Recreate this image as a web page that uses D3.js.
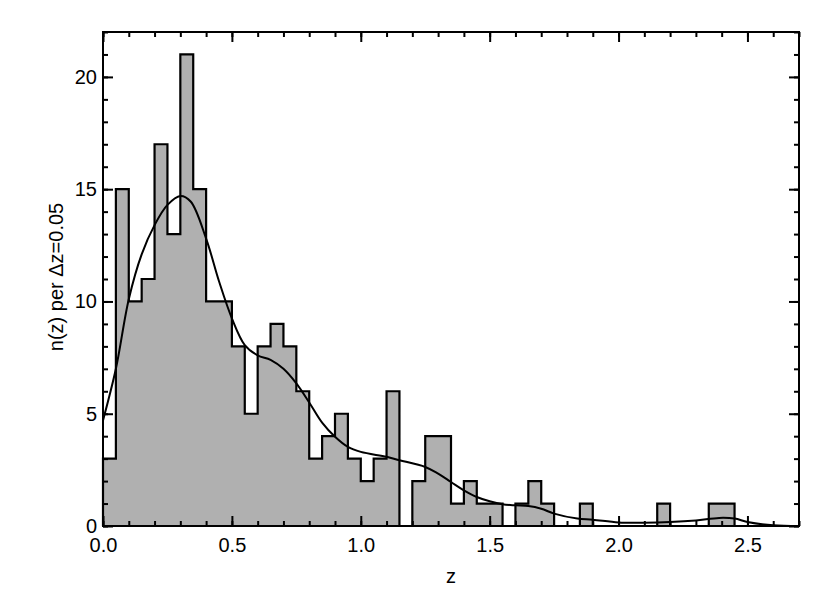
<!DOCTYPE html>
<html><head><meta charset="utf-8">
<script src="https://cdn.jsdelivr.net/npm/d3@7"></script>
<style>
body{margin:0;background:#fff;}
text{font-family:"Liberation Sans",Arial,Helvetica,sans-serif;}
</style></head>
<body><svg id="c" width="830" height="593"></svg>
<script>
// histogram bins (start z, width 0.05) and counts
const binWidth = 0.05;
const binStarts = d3.range(54).map(i => +(i * binWidth).toFixed(2));
const counts = [3,15,10,11,17,13,21,15,10,10, 8,5,8,9,8,6,3,4,5,3, 2,3,6,0,2,4,4,1,2,1, 1,0,1,2,1,0,0,1,0,0, 0,0,0,1,0,0,0,1,1,0, 0,0,0,0];
// smooth density curve
const curveZ = [0,0.05,0.1,0.15,0.2,0.25,0.3,0.34,0.4,0.45,0.5,0.55,0.6,0.65,0.7,0.75,0.8,0.85,0.9,0.95,1.0,1.1,1.15,1.25,1.3,1.35,1.4,1.45,1.5,1.55,1.6,1.65,1.7,1.75,1.84,1.9,2.0,2.1,2.2,2.3,2.39,2.45,2.5,2.6,2.7];
const curveN = [4.7,7.0,10.1,12.1,13.4,14.3,14.7,14.45,12.8,10.9,9.25,8.06,7.6,7.4,7.0,6.35,5.5,4.6,3.97,3.52,3.3,3.08,2.93,2.63,2.33,1.96,1.59,1.29,1.1,0.97,0.92,0.89,0.77,0.55,0.33,0.28,0.16,0.15,0.18,0.25,0.36,0.33,0.18,0.03,0.0];
const xMajor = [0,0.5,1.0,1.5,2.0,2.5];
const xMinor = d3.range(28).map(i => +(i*0.1).toFixed(1));
const yMajor = [0,5,10,15,20];
const yMinor = d3.range(23);

const svg = d3.select("#c");
const L=103, R=799, T=32, B=526;
const x = d3.scaleLinear().domain([0,2.7]).range([L,R]);
const y = d3.scaleLinear().domain([0,22]).range([B,T]);

// bars
svg.append("g").attr("shape-rendering","crispEdges").selectAll("rect").data(binStarts).join("rect")
  .attr("x", d => x(d)).attr("width", d => x(d+binWidth)-x(d)+0.5)
  .attr("y", (d,i) => y(counts[i])).attr("height", (d,i) => y(0)-y(counts[i]))
  .attr("fill", "#b0b0b0");

// step outline
let pts = [[0,0]];
binStarts.forEach((d,i) => { pts.push([d, counts[i]]); pts.push([d+binWidth, counts[i]]); });
pts.push([2.7,0]);
svg.append("path").attr("d", d3.line().x(p=>x(p[0])).y(p=>y(p[1]))(pts))
  .attr("fill","none").attr("stroke","#000").attr("stroke-width",2.2).attr("stroke-linejoin","miter");

// curve
svg.append("path").datum(curveZ.map((z,i)=>[z,curveN[i]]))
  .attr("d", d3.line().x(p=>x(p[0])).y(p=>y(p[1])).curve(d3.curveCatmullRom))
  .attr("fill","none").attr("stroke","#000").attr("stroke-width",2);

// axes
const fs = 20;
function styleAxis(g){ g.select(".domain").remove(); g.selectAll("line").attr("stroke","#000").attr("stroke-width",2); g.selectAll("text").attr("font-size",fs).attr("fill","#000").style("font-family",'"Liberation Sans",Arial,sans-serif'); }
svg.append("g").attr("transform",`translate(0,${B})`).call(d3.axisBottom(x).tickValues(xMinor).tickSize(-5).tickFormat("")).call(styleAxis);
svg.append("g").attr("transform",`translate(0,${B})`).call(d3.axisBottom(x).tickValues(xMajor).tickSize(-10).tickPadding(12).tickFormat(d3.format(".1f"))).call(styleAxis);
svg.append("g").attr("transform",`translate(0,${T})`).call(d3.axisTop(x).tickValues(xMinor).tickSize(-5).tickFormat("")).call(styleAxis);
svg.append("g").attr("transform",`translate(0,${T})`).call(d3.axisTop(x).tickValues(xMajor).tickSize(-10).tickFormat("")).call(styleAxis);
svg.append("g").attr("transform",`translate(${L},0)`).call(d3.axisLeft(y).tickValues(yMinor).tickSize(-5).tickFormat("")).call(styleAxis);
svg.append("g").attr("transform",`translate(${L},0)`).call(d3.axisLeft(y).tickValues(yMajor).tickSize(-10).tickPadding(6).tickFormat(d3.format("d"))).call(styleAxis);
svg.append("g").attr("transform",`translate(${R},0)`).call(d3.axisRight(y).tickValues(yMinor).tickSize(-5).tickFormat("")).call(styleAxis);
svg.append("g").attr("transform",`translate(${R},0)`).call(d3.axisRight(y).tickValues(yMajor).tickSize(-10).tickFormat("")).call(styleAxis);

// frame
svg.append("rect").attr("x",L).attr("y",T).attr("width",R-L).attr("height",B-T)
  .attr("fill","none").attr("stroke","#000").attr("stroke-width",2);

// labels
svg.append("text").attr("x",(L+R)/2).attr("y",583).attr("text-anchor","middle").attr("font-size",fs).text("z");
svg.append("text").attr("transform",`translate(63,277) rotate(-90)`).attr("text-anchor","middle").attr("font-size",fs).text("n(z) per Δz=0.05");
</script></body></html>
